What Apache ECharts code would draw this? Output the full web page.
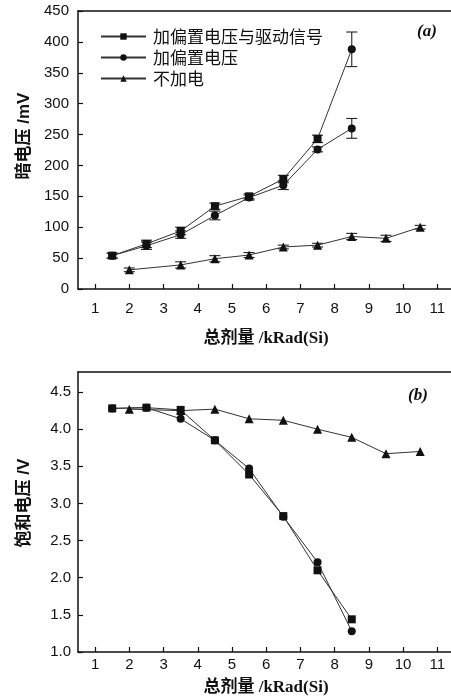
<!DOCTYPE html>
<html>
<head>
<meta charset="utf-8">
<script src="https://cdn.jsdelivr.net/npm/echarts@6/dist/echarts.min.js"></script>
<style>html,body{margin:0;padding:0;background:#fff;}#c{width:451px;height:699px;}</style>
</head>
<body>
<div id="c"></div>
<script>
// ---- data ----
const xTicks = [1, 2, 3, 4, 5, 6, 7, 8, 9, 10, 11];
const seriesNames = ['加偏置电压与驱动信号', '加偏置电压', '不加电'];
const doseBias = [1.5, 2.5, 3.5, 4.5, 5.5, 6.5, 7.5, 8.5];
const doseNoBias = [2, 3.5, 4.5, 5.5, 6.5, 7.5, 8.5, 9.5, 10.5];
// (a) dark voltage, mV
const darkBiasDrive = [54, 73, 94, 134, 150, 178, 243, 388];
const darkBiasDriveErr = [4, 6, 6, 5, 4, 6, 6, 28];
const darkBias = [54, 70, 88, 119, 148, 168, 226, 260];
const darkBiasErr = [4, 6, 6, 7, 4, 7, 4, 16];
const darkNoBias = [31, 39, 49, 55, 68, 71, 85, 82, 100];
const darkNoBiasErr = [3, 5, 5, 4, 3, 3, 5, 5, 3];
// (b) saturation voltage, V
const satBiasDrive = [4.28, 4.29, 4.26, 3.85, 3.39, 2.83, 2.10, 1.44];
const satBias = [4.28, 4.29, 4.14, 3.85, 3.47, 2.82, 2.21, 1.28];
const satNoBias = [4.27, 4.25, 4.27, 4.14, 4.12, 4.00, 3.89, 3.67, 3.70];

// ---- chart ----
const chart = echarts.init(document.getElementById('c'));
const lblFont = { fontFamily: '"Liberation Sans", Arial, sans-serif', fontSize: 15, color: '#111' };
const pairs = (xs, ys) => xs.map((x, i) => [x, ys[i]]);
const triples = (xs, ys, es) => xs.map((x, i) => [x, ys[i], es[i]]);

function xAxisCfg(gridIndex, margin) {
  return {
    type: 'value', gridIndex, min: 0.5, max: 11.4,
    axisLine: { show: true, lineStyle: { color: '#111', width: 1.5 } },
    axisTick: { show: true, inside: true, length: 5, customValues: xTicks, lineStyle: { color: '#111', width: 1.2 } },
    axisLabel: Object.assign({ margin, customValues: xTicks, showMinLabel: true, showMaxLabel: true }, lblFont),
    splitLine: { show: false }
  };
}
function topBorder(gridIndex) {
  return {
    type: 'value', gridIndex, position: 'top', min: 0.5, max: 11.4,
    axisLine: { show: true, lineStyle: { color: '#111', width: 1.5 } },
    axisTick: { show: false }, axisLabel: { show: false }, splitLine: { show: false }
  };
}
function errorSeries(data, xi, yi) {
  return {
    type: 'custom', xAxisIndex: xi, yAxisIndex: yi, silent: true, z: 1,
    encode: { x: 0, y: 1 },
    data,
    renderItem(params, api) {
      const x = api.value(0), y = api.value(1), e = api.value(2);
      const hi = api.coord([x, y + e]);
      const lo = api.coord([x, y - e]);
      const w = 5.5;
      const st = { stroke: '#222', lineWidth: 1.1 };
      return {
        type: 'group',
        children: [
          { type: 'line', shape: { x1: hi[0], y1: hi[1], x2: lo[0], y2: lo[1] }, style: st },
          { type: 'line', shape: { x1: hi[0] - w, y1: hi[1], x2: hi[0] + w, y2: hi[1] }, style: st },
          { type: 'line', shape: { x1: lo[0] - w, y1: lo[1], x2: lo[0] + w, y2: lo[1] }, style: st }
        ]
      };
    }
  };
}
const symbols = ['rect', 'circle', 'triangle'];
const sizes = [8, 8, 9];
function lineSeries(k, data, xi, yi) {
  return {
    name: seriesNames[k], type: 'line', xAxisIndex: xi, yAxisIndex: yi, z: 3,
    data, symbol: symbols[k], symbolSize: sizes[k], showAllSymbol: true,
    lineStyle: { color: '#333', width: 1 },
    itemStyle: { color: '#111', borderColor: '#111', borderWidth: 0 },
    emphasis: { disabled: true }
  };
}

// the last point of the first series in (a) is drawn with a round marker in the original
const aBiasDrive = pairs(doseBias, darkBiasDrive).map((p, i, arr) =>
  i === arr.length - 1 ? { value: p, symbol: 'circle' } : p);

const option = {
  animation: false,
  backgroundColor: '#fff',
  grid: [
    { left: 78, top: 11, width: 374, height: 278 },
    { left: 78, top: 372, width: 374, height: 280 }
  ],
  xAxis: [xAxisCfg(0, 12), xAxisCfg(1, 5), topBorder(0), topBorder(1)],
  yAxis: [
    {
      type: 'value', gridIndex: 0, min: 0, max: 450, interval: 50,
      axisLine: { show: true, lineStyle: { color: '#111', width: 1.5 } },
      axisTick: { show: true, inside: true, length: 5, lineStyle: { color: '#111', width: 1.2 } },
      axisLabel: Object.assign({ margin: 9 }, lblFont),
      splitLine: { show: false }
    },
    {
      type: 'value', gridIndex: 1, min: 1, max: 4.77, interval: 0.5,
      axisLine: { show: true, lineStyle: { color: '#111', width: 1.5 } },
      axisTick: { show: true, inside: true, length: 5, lineStyle: { color: '#111', width: 1.2 } },
      axisLabel: Object.assign({ margin: 7, showMaxLabel: false, formatter: v => v.toFixed(1) }, lblFont),
      splitLine: { show: false }
    }
  ],
  legend: {
    orient: 'vertical', left: 95, top: 23,
    itemWidth: 45, itemHeight: 8, itemGap: 4,
    data: seriesNames,
    selectedMode: false,
    textStyle: { fontFamily: '"Noto Sans CJK SC", sans-serif', fontSize: 17, lineHeight: 17, color: '#111', padding: [0, 0, 0, 2] },
    icon: undefined
  },
  series: [
    errorSeries(triples(doseBias, darkBiasDrive, darkBiasDriveErr), 0, 0),
    errorSeries(triples(doseBias, darkBias, darkBiasErr), 0, 0),
    errorSeries(triples(doseNoBias, darkNoBias, darkNoBiasErr), 0, 0),
    lineSeries(0, aBiasDrive, 0, 0),
    lineSeries(1, pairs(doseBias, darkBias), 0, 0),
    lineSeries(2, pairs(doseNoBias, darkNoBias), 0, 0),
    lineSeries(0, pairs(doseBias, satBiasDrive), 1, 1),
    lineSeries(1, pairs(doseBias, satBias), 1, 1),
    lineSeries(2, pairs(doseNoBias, satNoBias), 1, 1)
  ],
  graphic: [
    { type: 'text', x: 427, y: 32, style: { text: '(a)', font: 'bold italic 17px "Liberation Serif", serif', fill: '#111', textAlign: 'center', textVerticalAlign: 'middle' } },
    { type: 'text', x: 418, y: 396, style: { text: '(b)', font: 'bold italic 17px "Liberation Serif", serif', fill: '#111', textAlign: 'center', textVerticalAlign: 'middle' } },
    { type: 'text', x: 266, y: 339, style: { text: '总剂量 /kRad(Si)', font: 'bold 17px "Liberation Serif", "Noto Sans CJK SC", serif', fill: '#111', textAlign: 'center', textVerticalAlign: 'middle' } },
    { type: 'text', x: 266, y: 688, style: { text: '总剂量 /kRad(Si)', font: 'bold 17px "Liberation Serif", "Noto Sans CJK SC", serif', fill: '#111', textAlign: 'center', textVerticalAlign: 'middle' } },
    { type: 'text', x: 24, y: 136, rotation: Math.PI / 2, style: { text: '暗电压 /mV', font: 'bold 17px "Liberation Sans", "Noto Sans CJK SC", sans-serif', fill: '#111', textAlign: 'center', textVerticalAlign: 'middle' } },
    { type: 'text', x: 24, y: 503, rotation: Math.PI / 2, style: { text: '饱和电压 /V', font: 'bold 17px "Liberation Sans", "Noto Sans CJK SC", sans-serif', fill: '#111', textAlign: 'center', textVerticalAlign: 'middle' } }
  ]
};
chart.setOption(option);
</script>
</body>
</html>
